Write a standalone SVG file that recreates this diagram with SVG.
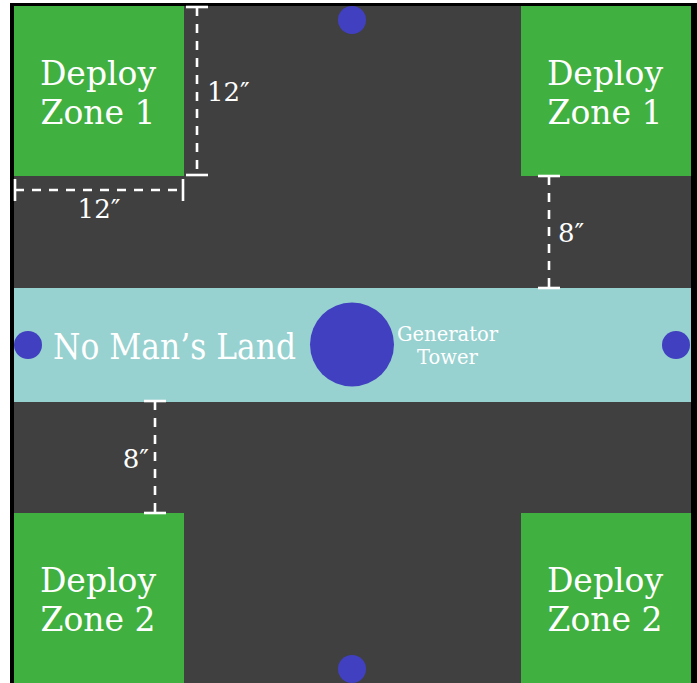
<svg xmlns="http://www.w3.org/2000/svg" width="697" height="683" viewBox="0 0 697 683">
  <style>
    .zone { fill: #40B040; }
    .lbl { fill: #ffffff; font-family: "DejaVu Serif", "Liberation Serif", serif; }
    .zlbl { font-size: 33px; text-anchor: middle; }
    .dim { stroke: #ffffff; stroke-width: 2.6; fill: none; }
    .dash { stroke-dasharray: 9 8; }
    .dimtxt { font-size: 26px; }
    .obj { fill: #4040C0; }
  </style>

  <!-- board frame and floor -->
  <rect x="10" y="3" width="687" height="690" fill="#000000"/>
  <rect x="14" y="6" width="677" height="677" fill="#404040"/>

  <g id="no-mans-land">
    <rect x="14" y="288" width="677" height="114" fill="#97D1D0"/>
    <text class="lbl" x="53" y="359" font-size="35" textLength="243" lengthAdjust="spacingAndGlyphs">No Man’s Land</text>
  </g>

  <g id="deploy-zone-1-left">
    <rect class="zone" x="14" y="6" width="170" height="170"/>
    <text class="lbl zlbl" x="98" y="85">Deploy</text>
    <text class="lbl zlbl" x="98" y="124">Zone 1</text>
  </g>
  <g id="deploy-zone-1-right">
    <rect class="zone" x="521" y="6" width="170" height="170"/>
    <text class="lbl zlbl" x="605" y="85">Deploy</text>
    <text class="lbl zlbl" x="605" y="124">Zone 1</text>
  </g>
  <g id="deploy-zone-2-left">
    <rect class="zone" x="14" y="513" width="170" height="170"/>
    <text class="lbl zlbl" x="98" y="592">Deploy</text>
    <text class="lbl zlbl" x="98" y="631">Zone 2</text>
  </g>
  <g id="deploy-zone-2-right">
    <rect class="zone" x="521" y="513" width="170" height="170"/>
    <text class="lbl zlbl" x="605" y="592">Deploy</text>
    <text class="lbl zlbl" x="605" y="631">Zone 2</text>
  </g>

  <g id="generator-tower">
    <circle class="obj" cx="352" cy="344.5" r="42"/>
    <text class="lbl" x="447.5" y="341" font-size="19.5" text-anchor="middle">Generator</text>
    <text class="lbl" x="447.5" y="364" font-size="19.5" text-anchor="middle">Tower</text>
  </g>

  <g id="objective-top"><circle class="obj" cx="352" cy="20" r="14"/></g>
  <g id="objective-bottom"><circle class="obj" cx="352" cy="669" r="14"/></g>
  <g id="objective-left"><circle class="obj" cx="28" cy="345" r="14"/></g>
  <g id="objective-right"><circle class="obj" cx="676" cy="345" r="14"/></g>

  <!-- measurement lines -->
  <g id="dimensions">
    <!-- 12" height of top-left zone -->
    <line class="dim dash" x1="197" y1="7" x2="197" y2="175"/>
    <line class="dim" x1="186" y1="7" x2="208" y2="7"/>
    <line class="dim" x1="186" y1="175" x2="208" y2="175"/>
    <text class="lbl dimtxt" x="207" y="101">12″</text>

    <!-- 12" width of top-left zone -->
    <line class="dim dash" x1="15" y1="190" x2="183" y2="190"/>
    <line class="dim" x1="15" y1="179" x2="15" y2="201"/>
    <line class="dim" x1="183" y1="179" x2="183" y2="201"/>
    <text class="lbl dimtxt" x="99" y="218" text-anchor="middle">12″</text>

    <!-- 8" gap, right side -->
    <line class="dim dash" x1="549" y1="176" x2="549" y2="288"/>
    <line class="dim" x1="538" y1="176" x2="560" y2="176"/>
    <line class="dim" x1="538" y1="288" x2="560" y2="288"/>
    <text class="lbl dimtxt" x="558" y="242">8″</text>

    <!-- 8" gap, left side -->
    <line class="dim dash" x1="155" y1="401" x2="155" y2="513"/>
    <line class="dim" x1="144" y1="401" x2="166" y2="401"/>
    <line class="dim" x1="144" y1="513" x2="166" y2="513"/>
    <text class="lbl dimtxt" x="149" y="468" text-anchor="end">8″</text>
  </g>
</svg>
